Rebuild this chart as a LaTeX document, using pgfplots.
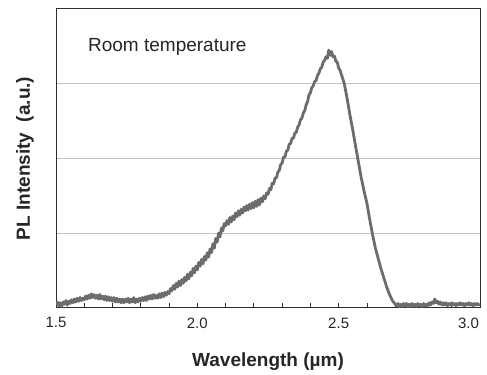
\documentclass[border=0pt]{standalone}
\usepackage{pgfplots}
\pgfplotsset{compat=1.18}
\usepackage{fontspec}
\setmainfont{Liberation Sans}
\definecolor{curve}{RGB}{108,108,108}
\definecolor{gridc}{RGB}{195,195,195}
\definecolor{frame}{RGB}{45,45,45}
\begin{document}
\begin{tikzpicture}
\begin{axis}[
  at={(0pt,0pt)}, anchor=south west,
  scale only axis, width=424pt, height=299pt,
  xmin=1.5, xmax=3.0, ymin=0, ymax=4,
  axis line style={draw=frame, line width=1pt},
  xtick={1.5,2.0,2.5,3.0},
  xticklabels={1.5,2.0,2.5,{\llap{3.0\hspace{1pt}}}},
  minor x tick num=4,
  tick align=inside,
  xtick pos=bottom,
  major tick length=5pt, minor tick length=5pt,
  x tick style={draw=frame, line width=0.8pt},
  ytick={1,2,3}, yticklabels={},
  y tick style={draw=none},
  ymajorgrids,
  major grid style={draw=gridc, line width=0.9pt},
  xticklabel style={font=\fontsize{15}{17}\selectfont, text=black!85, yshift=-6pt},
  xlabel={\textbf{Wavelength (µm)}},
  ylabel={\textbf{PL Intensity\ \ (a.u.)}},
  label style={font=\fontsize{19}{21}\selectfont, text=black!85},
  xlabel style={at={(0.5,0)}, anchor=center, yshift=-54pt},
  ylabel style={at={(0,0.5)}, anchor=center, yshift=31pt},
]
\addplot[curve, line width=2.8pt, line join=round] coordinates {
(1.50,0.04) (1.505,0.08) (1.51,0.03) (1.515,0.07) (1.52,0.02) (1.525,0.08) (1.53,0.05) (1.535,0.10) (1.54,0.04) (1.545,0.09)
(1.55,0.06) (1.555,0.11) (1.56,0.07) (1.565,0.12) (1.57,0.08) (1.575,0.13) (1.58,0.09) (1.585,0.14) (1.59,0.10) (1.595,0.13)
(1.60,0.11) (1.605,0.16) (1.61,0.12) (1.615,0.17) (1.62,0.13) (1.625,0.19) (1.63,0.14) (1.635,0.18) (1.64,0.13) (1.645,0.17)
(1.65,0.12) (1.655,0.18) (1.66,0.12) (1.665,0.16) (1.67,0.11) (1.675,0.16) (1.68,0.10) (1.685,0.15) (1.69,0.10) (1.695,0.14)
(1.70,0.09) (1.705,0.14) (1.71,0.08) (1.715,0.13) (1.72,0.08) (1.725,0.12) (1.73,0.07) (1.735,0.12) (1.74,0.07) (1.745,0.12)
(1.75,0.08) (1.755,0.13) (1.76,0.07) (1.765,0.12) (1.77,0.08) (1.775,0.14) (1.78,0.07) (1.785,0.12) (1.79,0.08) (1.795,0.13)
(1.80,0.09) (1.805,0.14) (1.81,0.10) (1.815,0.15) (1.82,0.10) (1.825,0.16) (1.83,0.12) (1.835,0.17) (1.84,0.12) (1.845,0.18)
(1.85,0.13) (1.855,0.17) (1.86,0.13) (1.865,0.19) (1.87,0.14) (1.875,0.20) (1.88,0.15) (1.885,0.21) (1.89,0.17) (1.895,0.22)
(1.90,0.19) (1.905,0.26) (1.91,0.23) (1.915,0.30) (1.92,0.25) (1.925,0.33) (1.93,0.28) (1.935,0.36) (1.94,0.30) (1.945,0.38)
(1.95,0.33) (1.955,0.41) (1.96,0.36) (1.965,0.45) (1.97,0.39) (1.975,0.48) (1.98,0.43) (1.985,0.53) (1.99,0.47) (1.995,0.56)
(2.00,0.51) (2.005,0.61) (2.01,0.56) (2.015,0.65) (2.02,0.59) (2.025,0.69) (2.03,0.64) (2.035,0.74) (2.04,0.68) (2.045,0.79)
(2.05,0.74) (2.055,0.86) (2.06,0.80) (2.065,0.93) (2.07,0.88) (2.075,1.00) (2.08,0.95) (2.085,1.07) (2.09,1.03) (2.095,1.13)
(2.10,1.10) (2.105,1.17) (2.11,1.12) (2.115,1.21) (2.12,1.15) (2.125,1.23) (2.13,1.18) (2.135,1.27) (2.14,1.22) (2.145,1.30)
(2.15,1.24) (2.155,1.32) (2.16,1.27) (2.165,1.35) (2.17,1.30) (2.175,1.37) (2.18,1.31) (2.185,1.39) (2.19,1.33) (2.195,1.41)
(2.20,1.34) (2.205,1.43) (2.21,1.36) (2.215,1.45) (2.22,1.38) (2.225,1.47) (2.23,1.42) (2.235,1.50) (2.24,1.46) (2.245,1.54)
(2.25,1.52) (2.255,1.60) (2.26,1.58) (2.265,1.67) (2.27,1.66) (2.275,1.74) (2.28,1.74) (2.285,1.82) (2.29,1.84) (2.295,1.92)
(2.30,1.94) (2.305,2.02) (2.31,2.02) (2.315,2.10) (2.32,2.11) (2.325,2.19) (2.33,2.20) (2.335,2.27) (2.34,2.27) (2.345,2.34)
(2.35,2.35) (2.355,2.42) (2.36,2.45) (2.365,2.52) (2.37,2.54) (2.375,2.61) (2.38,2.64) (2.385,2.72) (2.39,2.76) (2.395,2.85)
(2.40,2.88) (2.405,2.95) (2.41,2.97) (2.415,3.03) (2.42,3.04) (2.425,3.11) (2.43,3.14) (2.435,3.20) (2.44,3.22) (2.445,3.29)
(2.45,3.31) (2.455,3.36) (2.46,3.34) (2.465,3.45) (2.47,3.38) (2.475,3.43) (2.48,3.36) (2.485,3.37) (2.49,3.30) (2.495,3.29)
(2.50,3.21) (2.505,3.18) (2.51,3.12) (2.515,3.06) (2.52,3.00) (2.53,2.80) (2.54,2.58) (2.55,2.38) (2.56,2.16) (2.57,1.95)
(2.58,1.74) (2.59,1.56) (2.60,1.40) (2.61,1.18) (2.62,0.98) (2.63,0.80) (2.64,0.66) (2.65,0.52) (2.66,0.40) (2.67,0.28)
(2.68,0.18) (2.69,0.10) (2.70,0.05) (2.705,0.03) (2.71,0.06) (2.715,0.02) (2.72,0.05) (2.725,0.02) (2.73,0.06) (2.735,0.03)
(2.74,0.06) (2.745,0.02) (2.75,0.05) (2.755,0.02) (2.76,0.06) (2.765,0.03) (2.77,0.05) (2.775,0.02) (2.78,0.06) (2.785,0.03)
(2.79,0.05) (2.795,0.02) (2.80,0.06) (2.805,0.03) (2.81,0.05) (2.815,0.03) (2.82,0.07) (2.825,0.04) (2.83,0.08) (2.835,0.06)
(2.84,0.12) (2.845,0.07) (2.85,0.09) (2.855,0.05) (2.86,0.08) (2.865,0.04) (2.87,0.07) (2.875,0.04) (2.88,0.07) (2.885,0.03)
(2.89,0.06) (2.895,0.04) (2.90,0.07) (2.905,0.04) (2.91,0.06) (2.915,0.03) (2.92,0.06) (2.925,0.04) (2.93,0.07) (2.935,0.04)
(2.94,0.06) (2.945,0.03) (2.95,0.06) (2.955,0.04) (2.96,0.07) (2.965,0.04) (2.97,0.06) (2.975,0.03) (2.98,0.06) (2.985,0.04)
(2.99,0.06) (2.995,0.04) (3.00,0.05)
};
\node[anchor=west, font=\fontsize{19}{21}\selectfont, text=black!85, inner sep=0pt] at (axis cs:1.613,3.49) {Room temperature};
\end{axis}
\path[use as bounding box] (-56pt,-65pt) rectangle (431pt,308pt);
\end{tikzpicture}
\end{document}
